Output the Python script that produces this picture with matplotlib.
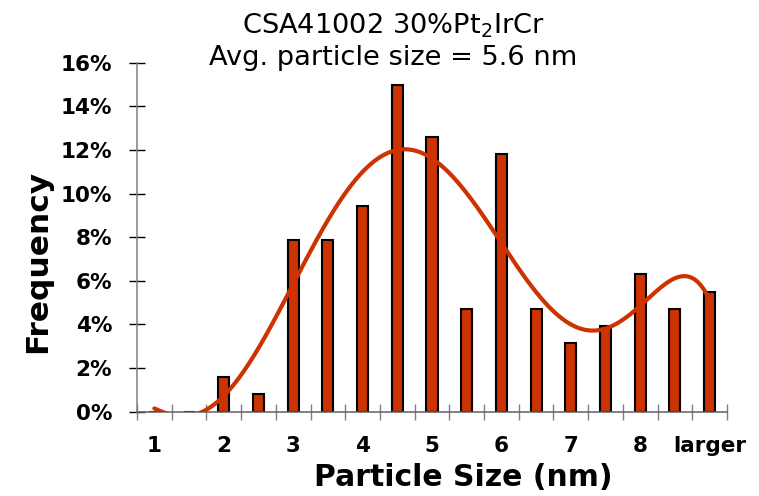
import numpy as np
import matplotlib
matplotlib.use("Agg")
import matplotlib.pyplot as plt
from matplotlib.ticker import FixedLocator, FuncFormatter

# ---- data ----
categories = ["1", "1.5", "2", "2.5", "3", "3.5", "4", "4.5", "5", "5.5",
              "6", "6.5", "7", "7.5", "8", "8.5", "larger"]
frequency_pct = [0.0, 0.0, 1.57, 0.79, 7.87, 7.87, 9.45, 14.96, 12.60, 4.72,
                 11.81, 4.72, 3.15, 3.94, 6.30, 4.72, 5.51]
shown_labels = ["1", "2", "3", "4", "5", "6", "7", "8", "larger"]
yticks_pct = [0, 2, 4, 6, 8, 10, 12, 14, 16]
title_line1 = "CSA41002 30%Pt$_2$IrCr"
title_line2 = "Avg. particle size = 5.6 nm"
trend_order = 6

W, H = 759, 496
fig = plt.figure(figsize=(W / 100, H / 100), dpi=100)
ax = fig.add_axes([137 / W, 1 - 411.7 / H, 590 / W, (411.7 - 62.7) / H])

bar_color = "#CC3300"
x = np.arange(len(categories))
ax.bar(x, frequency_pct, width=0.32, color=bar_color, edgecolor="black",
       linewidth=1.5, zorder=2)

# polynomial trendline (Excel-style, x = 1..N)
xe = x + 1
coef = np.polyfit(xe, frequency_pct, trend_order)
xs = np.linspace(xe[0], xe[-1], 400)
ax.plot(xs - 1, np.polyval(coef, xs), color=bar_color, linewidth=3,
        solid_capstyle="round", zorder=3)

ax.set_xlim(-0.5, len(categories) - 0.5)
ax.set_ylim(0, 16)

for s in ["top", "right"]:
    ax.spines[s].set_visible(False)
ax.spines["left"].set_color("#808080")
ax.spines["bottom"].set_color("#606060")
ax.spines["left"].set_linewidth(1.1)
ax.spines["bottom"].set_linewidth(1.1)

ax.set_yticks(yticks_pct)
ax.yaxis.set_major_formatter(FuncFormatter(lambda v, p: f"{v:.0f}%"))
ax.tick_params(axis="y", direction="inout", length=12, width=1.0,
               color="black", pad=12, labelsize=15.5)

# x: labels on every other category, tick marks on category boundaries
label_pos = [categories.index(c) for c in shown_labels]
ax.xaxis.set_major_locator(FixedLocator(label_pos))
ax.set_xticklabels(shown_labels)
ax.xaxis.set_minor_locator(FixedLocator(np.arange(len(categories) + 1) - 0.5))
ax.tick_params(axis="x", which="major", length=0, pad=17.5, labelsize=15.5)
ax.tick_params(axis="x", which="minor", direction="inout", length=12,
               width=1.0, color="#808080")
for lab in ax.get_xticklabels() + ax.get_yticklabels():
    lab.set_fontweight("bold")

fig.text(393 / W, 1 - 33 / H, title_line1, ha="center", va="baseline",
         fontsize=19.6)
fig.text(393 / W, 1 - 65 / H, title_line2, ha="center", va="baseline",
         fontsize=19.6)
fig.text(38 / W, 1 - 261 / H, "Frequency", rotation=90, ha="center",
         va="center", fontsize=22.5, fontweight="bold")
fig.text(463 / W, 1 - 486 / H, "Particle Size (nm)", ha="center",
         va="baseline", fontsize=21.5, fontweight="bold")

fig.savefig("out.png", dpi=100)
